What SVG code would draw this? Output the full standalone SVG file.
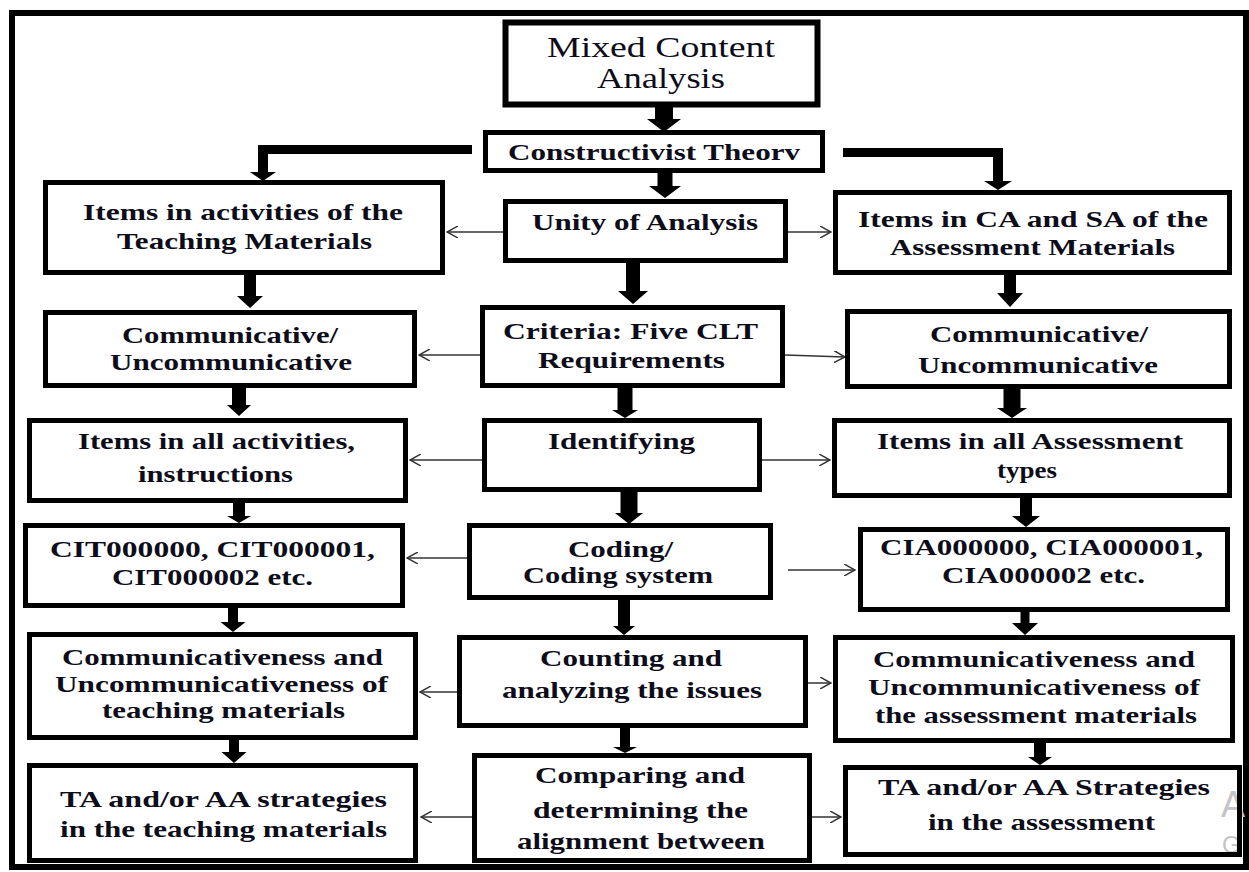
<svg xmlns="http://www.w3.org/2000/svg" width="1249" height="872" viewBox="0 0 1249 872">
<defs>
<style>
.box{fill:#fff;stroke:#000;stroke-width:5;}
.t{font-family:"Times New Roman","Liberation Serif",Tinos,serif;font-weight:bold;font-size:24px;fill:#0d0d1a;}
.tr{font-family:"Times New Roman","Liberation Serif",Tinos,serif;font-weight:normal;font-size:30px;fill:#0d0d1a;}
.blk{fill:#000;stroke:none;}
.thin{fill:none;stroke:#333;stroke-width:1.5;marker-end:url(#open);}
.wm{font-family:"Liberation Sans",Arial,sans-serif;fill:#c4c4c4;}
</style>
<marker id="open" viewBox="0 0 12 12" refX="11" refY="6" markerWidth="12" markerHeight="12" markerUnits="userSpaceOnUse" orient="auto">
<path d="M0,0 L11,6 L0,12" fill="none" stroke="#333" stroke-width="1.5"/>
</marker>
</defs>
<rect x="0" y="0" width="1249" height="872" fill="#fff"/>
<rect x="12" y="13" width="1234" height="854" fill="none" stroke="#000" stroke-width="6"/>

<g id="connectors">
<path class="blk" d="M655,107 L673,107 L673,119 L681,119 L664,132 L647,119 L655,119 Z"/>
<path class="blk" d="M657.5,173 L672.5,173 L672.5,186 L681,186 L665,198 L649,186 L657.5,186 Z"/>
<path class="blk" d="M472,145 L258,145 L258,172 L250,172 L263,181 L276,172 L268,172 L268,154 L472,154 Z"/>
<path class="blk" d="M843,148 L1003,148 L1003,181 L1012,181 L998,190 L984,181 L993,181 L993,157 L843,157 Z"/>
<path class="blk" d="M244,275 L256,275 L256,296 L263,296 L250,308 L237,296 L244,296 Z"/>
<path class="blk" d="M626,263 L640,263 L640,291 L648,291 L633,304 L618,291 L626,291 Z"/>
<path class="blk" d="M1004,275 L1016,275 L1016,293 L1023,293 L1010,307 L997,293 L1004,293 Z"/>
<path class="blk" d="M232,388 L246,388 L246,405 L251,405 L239,416 L227,405 L232,405 Z"/>
<path class="blk" d="M617.5,388 L632.5,388 L632.5,410 L638,410 L625,418 L612,410 L617.5,410 Z"/>
<path class="blk" d="M1003.5,389 L1020.5,389 L1020.5,408 L1027,408 L1012,418 L997,408 L1003.5,408 Z"/>
<path class="blk" d="M233,503 L245,503 L245,516 L251,516 L239,523 L227,516 L233,516 Z"/>
<path class="blk" d="M620.5,492 L637.5,492 L637.5,513 L643,513 L629,524 L615,513 L620.5,513 Z"/>
<path class="blk" d="M1020,498 L1032,498 L1032,516 L1040,516 L1026,527 L1012,516 L1020,516 Z"/>
<path class="blk" d="M228,608 L238,608 L238,622 L245.5,622 L233,632 L220.5,622 L228,622 Z"/>
<path class="blk" d="M618,600 L630,600 L630,626 L635,626 L624,635 L613,626 L618,626 Z"/>
<path class="blk" d="M1020.5,612 L1029.5,612 L1029.5,623 L1038,623 L1025,635 L1012,623 L1020.5,623 Z"/>
<path class="blk" d="M229,740 L239,740 L239,752 L246.5,752 L234,763 L221.5,752 L229,752 Z"/>
<path class="blk" d="M620,728 L630,728 L630,747 L637,747 L625,753 L613,747 L620,747 Z"/>
<path class="blk" d="M1034,743 L1046,743 L1046,757 L1052,757 L1040,765 L1028,757 L1034,757 Z"/>
<line class="thin" x1="503" y1="232" x2="447" y2="232"/>
<line class="thin" x1="788" y1="232" x2="831" y2="232"/>
<line class="thin" x1="480" y1="355" x2="419" y2="355"/>
<line class="thin" x1="785" y1="355" x2="845" y2="357"/>
<line class="thin" x1="482" y1="460" x2="410" y2="460"/>
<line class="thin" x1="762" y1="460" x2="830" y2="460"/>
<line class="thin" x1="467" y1="558" x2="407" y2="558"/>
<line class="thin" x1="788" y1="570" x2="855" y2="570"/>
<line class="thin" x1="457" y1="692" x2="420" y2="692"/>
<line class="thin" x1="808" y1="683" x2="831" y2="683"/>
<line class="thin" x1="472" y1="817" x2="421" y2="817"/>
<line class="thin" x1="812" y1="817" x2="841" y2="817"/>
</g>

<g id="mixed">
<rect class="box" x="505.5" y="22.5" width="312" height="82" style="stroke-width:6"/>
<text class="tr" x="547" y="57" textLength="228" lengthAdjust="spacingAndGlyphs">Mixed Content</text>
<text class="tr" x="597" y="88" textLength="128" lengthAdjust="spacingAndGlyphs">Analysis</text>
</g>
<g id="constructivist">
<rect class="box" x="485.5" y="132.5" width="337" height="38"/>
<text class="t" x="508" y="160" textLength="292" lengthAdjust="spacingAndGlyphs">Constructivist Theorv</text>
</g>
<g id="items-teaching">
<rect class="box" x="45.5" y="182.5" width="397" height="90"/>
<text class="t" x="83" y="220" textLength="320" lengthAdjust="spacingAndGlyphs">Items in activities of the</text>
<text class="t" x="117" y="249" textLength="255" lengthAdjust="spacingAndGlyphs">Teaching Materials</text>
</g>
<g id="unity">
<rect class="box" x="505.5" y="201.5" width="280" height="59"/>
<text class="t" x="532" y="230" textLength="226" lengthAdjust="spacingAndGlyphs">Unity of Analysis</text>
</g>
<g id="items-assessment">
<rect class="box" x="835.5" y="192.5" width="394" height="80"/>
<text class="t" x="858" y="227" textLength="350" lengthAdjust="spacingAndGlyphs">Items in CA and SA of the</text>
<text class="t" x="890" y="255" textLength="285" lengthAdjust="spacingAndGlyphs">Assessment Materials</text>
</g>
<g id="comm-left">
<rect class="box" x="45.5" y="312.5" width="369" height="73"/>
<text class="t" x="122" y="343" textLength="216" lengthAdjust="spacingAndGlyphs">Communicative/</text>
<text class="t" x="110" y="370" textLength="242" lengthAdjust="spacingAndGlyphs">Uncommunicative</text>
</g>
<g id="criteria">
<rect class="box" x="482.5" y="307.5" width="300" height="78"/>
<text class="t" x="503" y="339" textLength="255" lengthAdjust="spacingAndGlyphs">Criteria: Five CLT</text>
<text class="t" x="538" y="368" textLength="187" lengthAdjust="spacingAndGlyphs">Requirements</text>
</g>
<g id="comm-right">
<rect class="box" x="847.5" y="311.5" width="382" height="75"/>
<text class="t" x="930" y="342" textLength="218" lengthAdjust="spacingAndGlyphs">Communicative/</text>
<text class="t" x="918" y="373" textLength="240" lengthAdjust="spacingAndGlyphs">Uncommunicative</text>
</g>
<g id="items-all-activities">
<rect class="box" x="29.5" y="420.5" width="376" height="80"/>
<text class="t" x="78" y="449" textLength="277" lengthAdjust="spacingAndGlyphs">Items in all activities,</text>
<text class="t" x="138" y="482" textLength="155" lengthAdjust="spacingAndGlyphs">instructions</text>
</g>
<g id="identifying">
<rect class="box" x="484.5" y="420.5" width="275" height="69"/>
<text class="t" x="548" y="449" textLength="147" lengthAdjust="spacingAndGlyphs">Identifying</text>
</g>
<g id="items-all-assessment">
<rect class="box" x="834.5" y="420.5" width="395" height="75"/>
<text class="t" x="877" y="449" textLength="306" lengthAdjust="spacingAndGlyphs">Items in all Assessment</text>
<text class="t" x="997" y="478" textLength="60" lengthAdjust="spacingAndGlyphs">types</text>
</g>
<g id="cit">
<rect class="box" x="25.5" y="525.5" width="377" height="80"/>
<text class="t" x="50" y="557" textLength="325" lengthAdjust="spacingAndGlyphs">CIT000000, CIT000001,</text>
<text class="t" x="112" y="585" textLength="201" lengthAdjust="spacingAndGlyphs">CIT000002 etc.</text>
</g>
<g id="coding">
<rect class="box" x="469.5" y="525.5" width="301" height="72"/>
<text class="t" x="568" y="557" textLength="105" lengthAdjust="spacingAndGlyphs">Coding/</text>
<text class="t" x="523" y="583" textLength="190" lengthAdjust="spacingAndGlyphs">Coding system</text>
</g>
<g id="cia">
<rect class="box" x="860.5" y="529.5" width="367" height="80"/>
<text class="t" x="880" y="555" textLength="323" lengthAdjust="spacingAndGlyphs">CIA000000, CIA000001,</text>
<text class="t" x="942" y="583" textLength="203" lengthAdjust="spacingAndGlyphs">CIA000002 etc.</text>
</g>
<g id="comm-teaching">
<rect class="box" x="29.5" y="634.5" width="386" height="103"/>
<text class="t" x="62" y="665" textLength="321" lengthAdjust="spacingAndGlyphs">Communicativeness and</text>
<text class="t" x="55" y="692" textLength="333" lengthAdjust="spacingAndGlyphs">Uncommunicativeness of</text>
<text class="t" x="102" y="718" textLength="243" lengthAdjust="spacingAndGlyphs">teaching materials</text>
</g>
<g id="counting">
<rect class="box" x="459.5" y="637.5" width="346" height="88"/>
<text class="t" x="540" y="666" textLength="182" lengthAdjust="spacingAndGlyphs">Counting and</text>
<text class="t" x="502" y="698" textLength="260" lengthAdjust="spacingAndGlyphs">analyzing the issues</text>
</g>
<g id="comm-assessment">
<rect class="box" x="835.5" y="637.5" width="397" height="103"/>
<text class="t" x="873" y="667" textLength="322" lengthAdjust="spacingAndGlyphs">Communicativeness and</text>
<text class="t" x="868" y="695" textLength="332" lengthAdjust="spacingAndGlyphs">Uncommunicativeness of</text>
<text class="t" x="875" y="723" textLength="322" lengthAdjust="spacingAndGlyphs">the assessment materials</text>
</g>
<g id="ta-teaching">
<rect class="box" x="29.5" y="765.5" width="386" height="95"/>
<text class="t" x="60" y="807" textLength="327" lengthAdjust="spacingAndGlyphs">TA and/or AA strategies</text>
<text class="t" x="60" y="837" textLength="327" lengthAdjust="spacingAndGlyphs">in the teaching materials</text>
</g>
<g id="comparing">
<rect class="box" x="474.5" y="755.5" width="335" height="105"/>
<text class="t" x="535" y="783" textLength="210" lengthAdjust="spacingAndGlyphs">Comparing and</text>
<text class="t" x="533" y="818" textLength="215" lengthAdjust="spacingAndGlyphs">determining the</text>
<text class="t" x="517" y="849" textLength="248" lengthAdjust="spacingAndGlyphs">alignment between</text>
</g>
<g id="ta-assessment">
<rect class="box" x="845.5" y="767.5" width="394" height="87"/>
<text class="wm" x="1221" y="817" font-size="36">A</text>
<text class="wm" x="1222" y="853" font-size="24">G</text>
<rect x="845.5" y="767.5" width="394" height="87" fill="none" stroke="#000" stroke-width="5"/>
<text class="t" x="878" y="795" textLength="332" lengthAdjust="spacingAndGlyphs">TA and/or AA Strategies</text>
<text class="t" x="928" y="830" textLength="227" lengthAdjust="spacingAndGlyphs">in the assessment</text>
</g>
</svg>
